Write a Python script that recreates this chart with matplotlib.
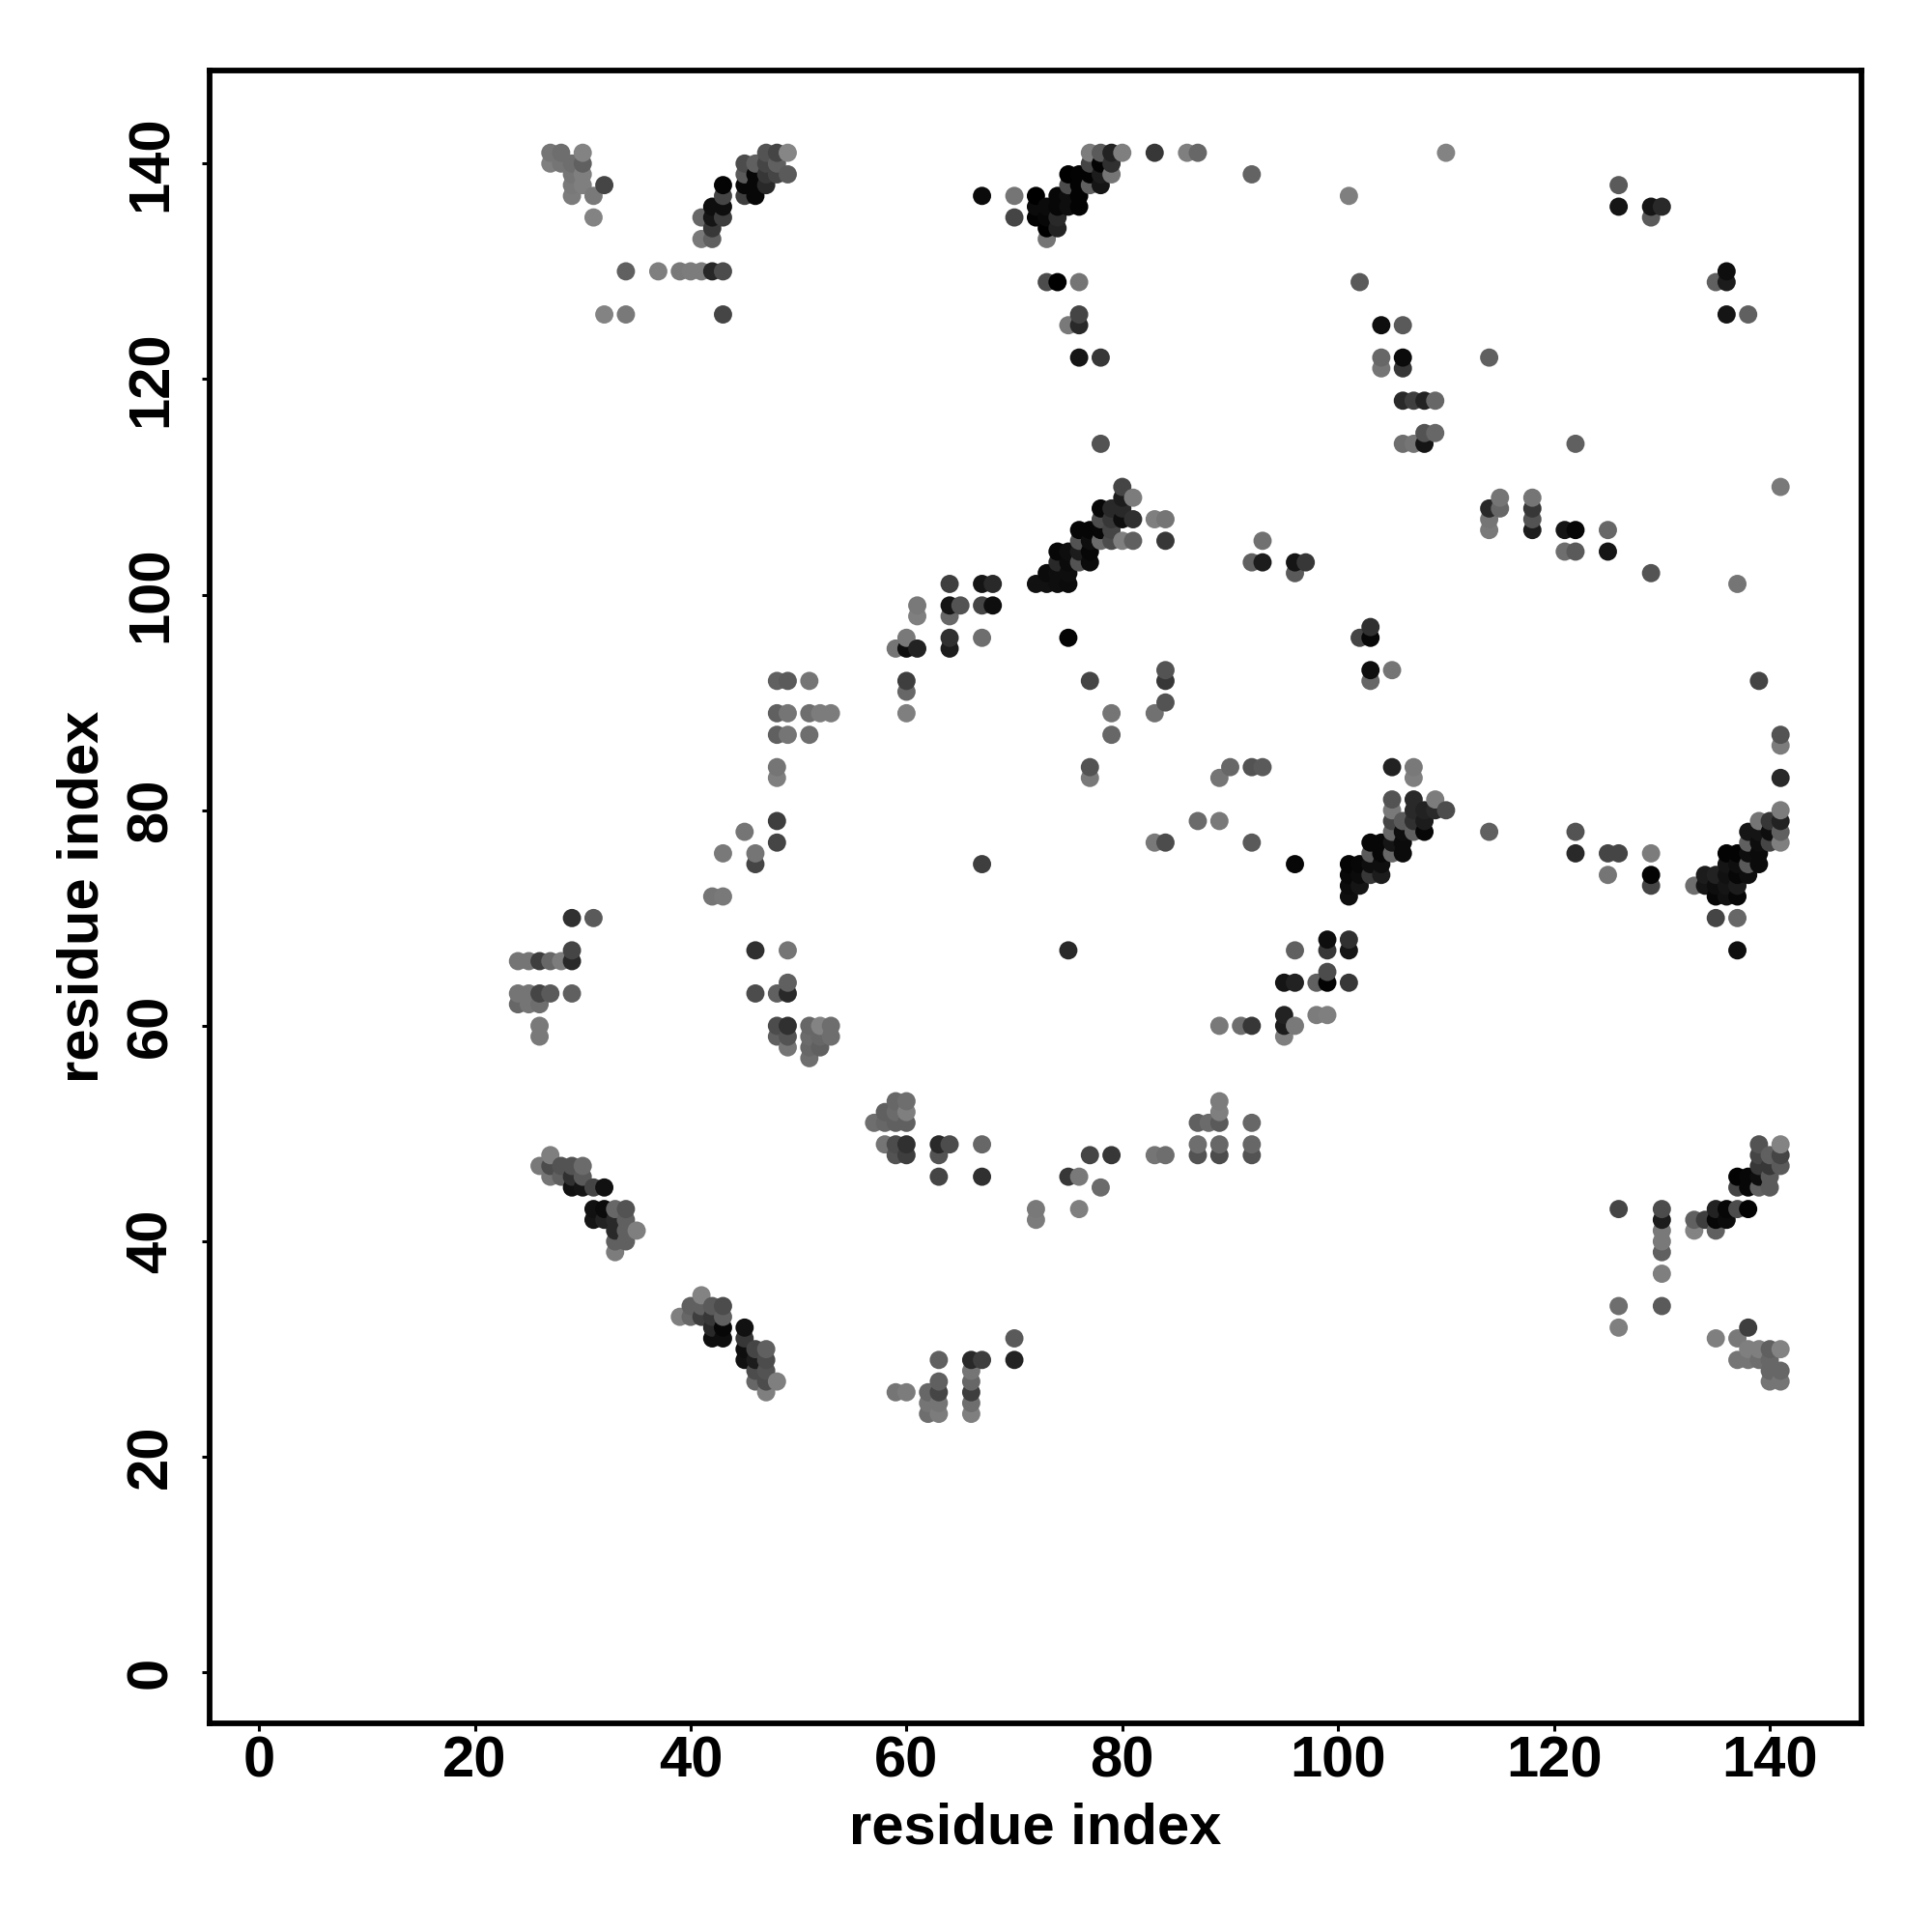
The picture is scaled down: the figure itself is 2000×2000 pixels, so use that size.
import matplotlib
matplotlib.use("Agg")
import matplotlib.pyplot as plt

plt.rcParams['font.family'] = ['Liberation Sans', 'DejaVu Sans']

# (residue i, residue j, score) score 0 = weakest/light, 100 = strongest/black
top_left = [(27,141,15),(28,141,20),(30,141,5),(27,140,8),(28,140,15),(29,140,20),(30,140,30),
            (29,139,15),(30,139,8),(29,138,12),(30,138,8),(29,137,10),(31,137,12),(32,138,50),(31,135,5),
            (34,130,30),(37,130,8),(39,130,12),(40,130,10),(41,130,10),(42,130,72),(43,130,45),
            (32,126,5),(34,126,12),(43,126,50)]
top_diag = [(41,133,12),(42,133,30),(42,134,60),(41,135,25),(42,135,85),(43,135,55),(42,136,90),(43,136,90),
            (43,137,50),(43,138,97),(45,137,55),(46,137,95),(45,138,95),(46,138,95),(47,138,70),(46,139,95),
            (45,139,35),(45,140,45),(46,140,30),(47,140,50),(47,139,60),(48,139,50),(47,141,40),(48,141,50),
            (48,140,30),(49,141,3),(49,139,35)]
top_mid = [(67,137,92),(70,137,15),(70,135,50),(72,137,100),(72,136,92),(72,135,98),(73,136,92),(73,135,95),
           (73,134,100),(73,133,15),(74,137,95),(74,136,95),(74,135,70),(74,134,75),(75,136,90),(75,137,90),
           (75,139,100),(75,138,45),(76,139,98),(76,138,98),(76,137,98),(76,136,98),(77,139,98),(77,138,30),
           (77,140,50),(77,141,10),(78,141,35),(78,140,98),(78,139,80),(78,138,85),(79,141,75),(79,140,65),
           (79,139,15),(80,141,8),(83,141,60),(86,141,8),(87,141,25),(92,139,28),(110,141,5),(101,137,8),
           (73,129,45),(74,129,100),(76,129,15),(76,126,50),(76,125,70),(75,125,12),(76,122,85),(78,122,60),
           (78,114,40)]
top_right = [(102,129,35),(104,125,90),(106,125,35),(104,122,25),(104,121,15),(106,122,92),(106,121,60),
             (106,118,70),(107,118,55),(108,118,75),(109,118,25),(106,114,20),(107,114,15),(108,114,85),
             (108,115,40),(109,115,25),(114,122,30),(122,114,30),(126,138,35),(126,136,85),(129,136,85),
             (130,136,70),(129,135,35),(136,130,90),(136,129,80),(135,129,30),(136,126,85),(138,126,30),
             (141,110,12),(114,108,70),(114,107,15),(114,106,12),(115,109,15),(115,108,25),(118,109,15),
             (118,108,60),(118,107,40),(118,106,80),(121,106,85),(122,106,95),(125,106,25),(121,104,20),
             (122,104,35),(125,104,85),(129,102,40),(137,101,15)]
mid_diag = [(72,101,88),(73,101,88),(74,101,90),(75,101,92),(73,102,92),(74,102,90),(75,102,90),(74,103,70),
            (75,103,92),(76,103,40),(77,103,92),(74,104,95),(75,104,90),(76,104,80),(77,104,95),(76,105,40),
            (77,105,90),(78,105,22),(76,106,96),(77,106,96),(78,106,95),(78,107,45),(79,107,60),(79,105,45),
            (79,106,50),(80,105,8),(81,105,30),(78,108,95),(79,108,70),(80,108,70),(80,107,90),(81,107,65),
            (81,109,10),(80,109,80),(80,110,50),(83,107,8),(84,107,15),(84,105,60),(75,96,97)]
mid_upper = [(59,95,15),(60,96,12),(60,95,90),(61,95,75),(61,99,12),(61,98,8),(60,92,55),(60,91,25),(60,89,8),
             (64,101,55),(64,99,85),(64,98,25),(65,99,40),(64,96,65),(64,95,80),(67,101,85),(68,101,70),
             (67,99,50),(68,99,90),(67,96,20),(92,103,30),(93,103,80),(93,105,18),(96,103,85),(97,103,60),
             (96,102,35),(102,96,50),(103,96,95),(103,97,65),(103,93,90),(103,92,25),(105,93,15),(77,92,50),
             (79,89,15),(79,87,25),(83,89,18),(84,93,40),(84,92,60),(84,90,40),(139,92,50),(141,87,40),
             (141,86,10),(141,83,70)]
mid_left = [(48,92,30),(49,92,35),(51,92,15),(48,89,30),(49,89,15),(51,89,20),(52,89,10),(53,89,10),(48,87,30),
            (49,87,15),(51,87,20),(48,84,15),(48,83,8),(48,79,55),(48,77,50),(45,78,15),(43,76,12),(46,76,15),
            (46,75,50),(42,72,15),(43,72,12),(29,70,65),(31,70,35),(24,66,15),(25,66,15),(26,66,55),(27,66,25),
            (28,66,10),(29,66,70),(29,67,50),(24,63,15),(25,63,15),(26,63,50),(27,63,35),(29,63,30),(24,62,25),
            (25,62,15),(26,62,20),(26,60,12),(26,59,12),(46,67,65),(49,67,15),(46,63,45),(48,63,30),(49,64,30),
            (49,63,70),(48,60,45),(49,60,65),(48,59,30),(49,59,40),(49,58,15),(51,60,25),(52,60,5),(53,60,20),
            (51,59,22),(52,59,25),(53,59,20),(51,58,25),(52,58,30),(51,57,20)]
mid_center = [(90,84,25),(89,83,15),(92,84,40),(93,84,35),(87,79,22),(89,79,12),(92,77,35),(83,77,12),(84,77,45),
              (77,84,40),(77,83,12),(67,75,55),(96,75,95),(114,78,30),(75,67,70),(122,78,40),(122,76,70),
              (125,76,50),(126,76,50),(125,74,15)]
low_diag = [(101,75,97),(101,74,95),(101,73,92),(101,72,90),(102,75,95),(102,74,92),(102,73,85),(103,75,90),
            (103,74,60),(103,76,35),(103,77,95),(104,77,95),(104,76,95),(104,75,90),(104,74,80),(105,76,25),
            (105,77,85),(105,78,25),(105,79,50),(105,80,12),(105,81,40),(106,76,92),(106,77,92),(106,78,90),
            (106,79,35),(107,78,30),(107,79,65),(107,80,70),(107,81,70),(108,78,95),(108,79,80),(108,80,75),
            (109,81,10),(109,80,70),(110,80,45),(105,84,75),(107,84,12),(107,83,8),(96,67,30),(99,68,90),
            (99,67,60),(101,68,65),(101,67,85),(95,64,85),(96,64,75),(98,64,30),(99,64,98),(99,65,45),(101,64,60),
            (95,61,75),(95,60,80),(96,60,12),(95,59,8),(98,61,10),(99,61,8),(92,60,60),(89,60,12),(91,60,20)]
right_diag = [(129,76,10),(129,74,97),(129,73,50),(133,73,20),(134,73,85),(134,74,80),(135,74,75),(135,72,95),
              (135,73,90),(135,70,50),(137,70,25),(137,67,90),(136,72,88),(137,72,95),(136,73,85),(136,74,88),
              (136,75,85),(136,76,98),(137,74,95),(137,75,90),(137,76,98),(137,73,80),(138,74,90),(138,75,35),
              (138,76,90),(138,77,30),(138,78,85),(139,75,92),(139,76,92),(139,77,90),(139,78,85),(140,77,50),
              (140,78,90),(140,79,60),(139,79,15),(141,77,8),(141,78,30),(141,79,75),(141,80,10)]
low_left = [(26,47,12),(27,48,8),(27,47,45),(27,46,15),(28,47,40),(28,46,30),(29,47,40),(29,46,65),(29,45,88),
            (30,47,22),(30,46,35),(30,45,85),(31,45,50),(32,45,88),(31,43,88),(31,42,85),(32,43,92),(32,42,75),
            (33,43,25),(33,42,70),(33,41,70),(33,40,30),(33,39,10),(34,43,40),(34,42,30),(34,41,30),(34,40,30),
            (35,41,8),(39,33,8),(40,34,30),(40,33,25),(41,35,5),(41,34,30),(41,33,55),(42,34,35),(42,33,60),
            (42,32,70),(42,31,90),(43,34,45),(43,33,30),(43,32,95),(43,31,90),(45,32,88),(45,31,60),(45,30,90),
            (45,29,88),(46,30,50),(46,29,80),(46,28,45),(46,27,25),(47,30,30),(47,29,45),(47,28,40),(47,27,45),
            (47,26,8),(48,27,8)]
low_mid = [(57,51,20),(58,52,30),(58,51,25),(59,53,25),(59,52,22),(59,51,30),(60,53,20),(60,52,8),(60,51,30),
           (58,49,15),(59,49,45),(59,48,40),(60,49,65),(60,48,55),(63,49,70),(64,49,45),(63,48,40),(67,49,25),
           (63,46,50),(67,46,65),(77,48,50),(79,48,60),(83,48,15),(84,48,20),(75,46,60),(76,46,12),(78,45,22),
           (76,43,8),(72,43,12),(72,42,10),(87,51,30),(88,51,22),(89,53,10),(89,52,8),(89,51,35),(87,49,20),
           (87,48,40),(89,49,25),(89,48,45),(92,51,25),(92,49,25),(92,48,40),(70,31,35),(70,29,75),(63,29,30),
           (66,29,70),(67,29,55),(63,27,30),(62,26,25),(63,26,50),(62,25,15),(63,25,15),(62,24,20),(63,24,10),
           (59,26,15),(60,26,10),(66,28,15),(66,27,25),(66,26,55),(66,25,20),(66,24,8)]
low_right = [(126,43,50),(130,43,45),(130,42,80),(130,41,12),(130,40,12),(130,39,30),(130,37,8),(126,34,20),
             (126,32,8),(130,34,35),(133,42,30),(133,41,5),(134,42,55),(135,43,75),(135,42,95),(135,41,30),
             (136,43,95),(136,42,92),(137,43,45),(138,43,98),(137,46,98),(137,45,50),(138,46,95),(138,45,95),
             (139,46,90),(139,45,30),(139,49,40),(139,48,50),(139,47,60),(140,48,30),(140,47,60),(140,46,35),
             (140,45,35),(141,49,5),(141,48,50),(141,47,35),(138,32,55),(135,31,8),(137,31,12),(137,29,15),
             (138,30,8),(138,29,15),(139,30,8),(139,29,20),(140,30,30),(140,29,25),(140,28,25),(140,27,15),
             (141,30,5),(141,28,25),(141,27,15)]

x_ticks = [0, 20, 40, 60, 80, 100, 120, 140]
y_ticks = [0, 20, 40, 60, 80, 100, 120, 140]
x_label = "residue index"
y_label = "residue index"

# later residues are painted over the earlier ones
contacts = sorted(top_left + top_diag + top_mid + top_right + mid_diag + mid_upper + mid_left
                  + mid_center + low_diag + right_diag + low_left + low_mid + low_right)
xx = [c[0] for c in contacts]
yy = [c[1] for c in contacts]
shades = [str(round(0.54*(1 - c[2]/100), 3)) for c in contacts]

fig = plt.figure(figsize=(20, 20), dpi=100)
ax = fig.add_axes([216.5/2000, 1 - 1783.7/2000, (1927 - 216.5)/2000, (1783.7 - 72.7)/2000])

ax.scatter(xx, yy, s=185, c=shades, linewidths=0, clip_on=False)

ax.set_xlim(-4.62, 148.5)
ax.set_ylim(-4.69, 148.66)
ax.set_xticks(x_ticks)
ax.set_yticks(y_ticks)

for sp in ax.spines.values():
    sp.set_linewidth(4.2)

ax.tick_params(axis='x', length=6, width=2.2, labelsize=43, pad=3)
ax.tick_params(axis='y', length=6, width=2.2, labelsize=43, pad=17)
for lab in ax.get_xticklabels() + ax.get_yticklabels():
    lab.set_fontweight('bold')
for lab in ax.get_yticklabels():
    lab.set_rotation(90)
    lab.set_va('center')

ax.set_xlabel(x_label, fontsize=43, fontweight='bold')
ax.set_ylabel(y_label, fontsize=43, fontweight='bold')
ax.xaxis.set_label_coords(0.5, -0.048)
ax.yaxis.set_label_coords(-0.0604, 0.5)

fig.savefig("out.png", dpi=100)
